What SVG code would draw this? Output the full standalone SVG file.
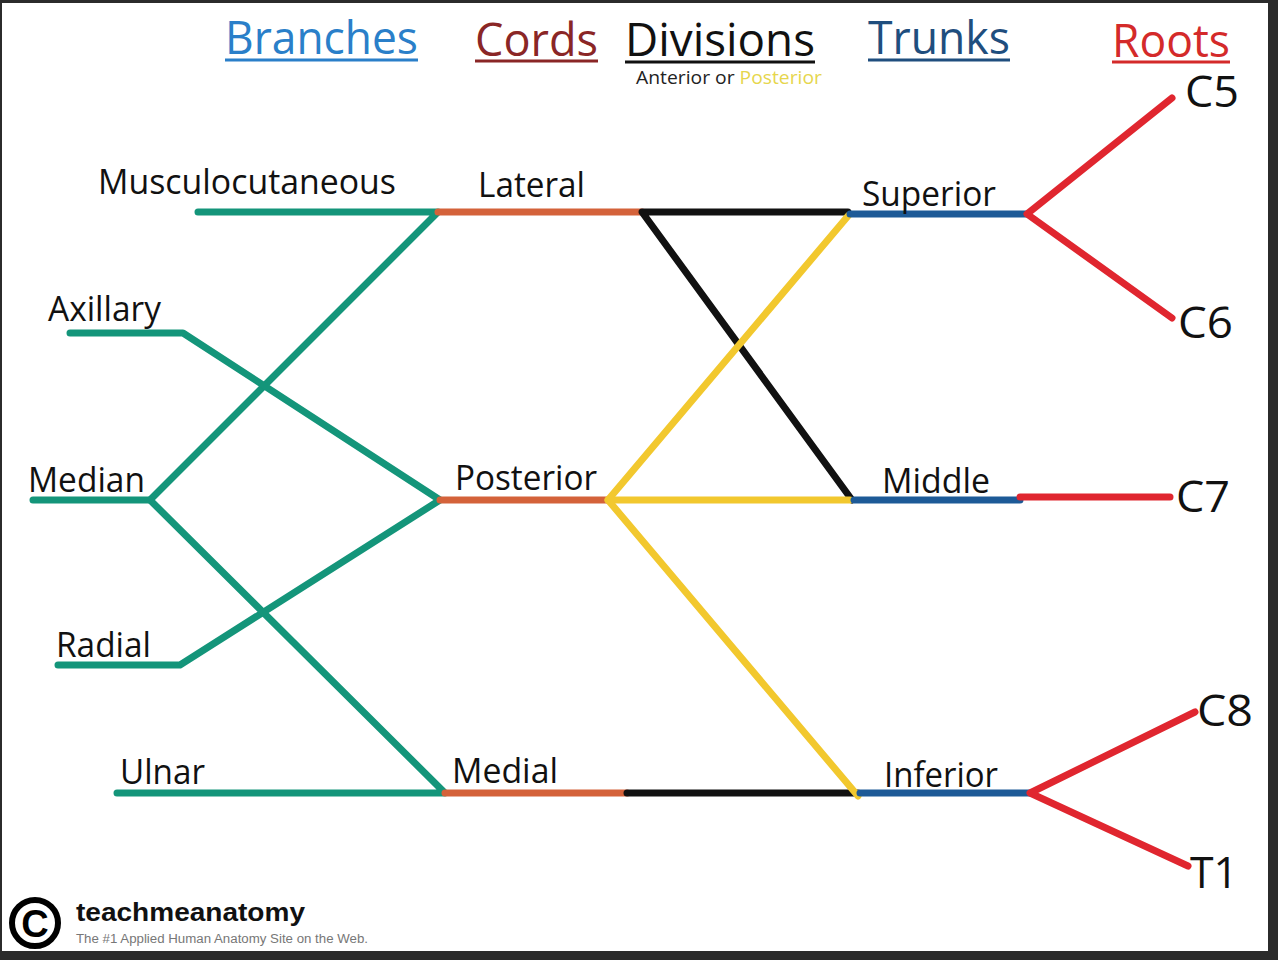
<svg xmlns="http://www.w3.org/2000/svg" width="1278" height="960" viewBox="0 0 1278 960">
<style>
.lbl{font-family:"Open Sans","Noto Sans",sans-serif;font-size:34px;fill:#111}
.hdr{font-family:"Open Sans","Noto Sans",sans-serif;font-size:46px}
.root{font-family:"Open Sans","Noto Sans",sans-serif;font-size:44px;fill:#111}
.ln{fill:none;stroke-width:7;stroke-linecap:round;stroke-linejoin:round}
.g{stroke:#14957a}.o{stroke:#d4623a}.k{stroke:#111}.y{stroke:#f2c82e}.b{stroke:#1d5a97}.r{stroke:#e0262f}
.ul{stroke-width:3}
</style>
<rect x="0" y="0" width="1278" height="960" fill="#2b2b2b"/>
<rect x="2" y="3" width="1266" height="948" fill="#ffffff"/>

<g id="headers">
<text class="hdr" x="225" y="54" fill="#2a7fc9" textLength="193" lengthAdjust="spacingAndGlyphs">Branches</text>
<line x1="225" y1="60" x2="418" y2="60" stroke="#2a7fc9" class="ul"/>
<text class="hdr" x="475" y="56" fill="#8a2626" textLength="123" lengthAdjust="spacingAndGlyphs">Cords</text>
<line x1="475" y1="61" x2="598" y2="61" stroke="#8a2626" class="ul"/>
<text class="hdr" x="625" y="56" fill="#111" textLength="190" lengthAdjust="spacingAndGlyphs">Divisions</text>
<line x1="625" y1="62" x2="815" y2="62" stroke="#111" class="ul"/>
<text x="636" y="84" font-family="'Open Sans','Noto Sans',sans-serif" font-size="19" fill="#222" textLength="186" lengthAdjust="spacingAndGlyphs">Anterior or <tspan fill="#e6d64c">Posterior</tspan></text>
<text class="hdr" x="868" y="54" fill="#1f4e7e" textLength="142" lengthAdjust="spacingAndGlyphs">Trunks</text>
<line x1="868" y1="60" x2="1010" y2="60" stroke="#1f4e7e" class="ul"/>
<text class="hdr" x="1112" y="57" fill="#d42a2a" textLength="118" lengthAdjust="spacingAndGlyphs">Roots</text>
<line x1="1112" y1="62" x2="1230" y2="62" stroke="#d42a2a" class="ul"/>
</g>

<g id="connectors">
<polyline class="ln g" points="198,212 438,212 150,500 33,500"/>
<polyline class="ln g" points="70,333 183,333 440,500 180,665 58,665"/>
<polyline class="ln g" points="150,500 445,793 117,793"/>
<line class="ln o" x1="438" y1="212" x2="642" y2="212"/>
<line class="ln o" x1="440" y1="500" x2="608" y2="500"/>
<line class="ln o" x1="445" y1="793" x2="627" y2="793"/>
<polyline class="ln k" points="848,212 642,212 852,500"/>
<line class="ln k" x1="627" y1="793" x2="858" y2="793"/>
<polyline class="ln y" points="848,216 608,500 858,796"/>
<line class="ln y" x1="608" y1="500" x2="850" y2="500"/>
<line class="ln b" x1="850" y1="214" x2="1027" y2="214"/>
<line class="ln b" x1="854" y1="500" x2="1020" y2="500"/>
<line class="ln b" x1="860" y1="793" x2="1030" y2="793"/>
<polyline class="ln r" points="1172,98 1027,214 1172,318"/>
<line class="ln r" x1="1020" y1="497" x2="1170" y2="497"/>
<polyline class="ln r" points="1195,712 1030,793 1188,866"/>
</g>

<g id="branches">
<text class="lbl" x="98" y="194" textLength="298" lengthAdjust="spacingAndGlyphs">Musculocutaneous</text>
<text class="lbl" x="48" y="321" textLength="113" lengthAdjust="spacingAndGlyphs">Axillary</text>
<text class="lbl" x="28" y="492" textLength="117" lengthAdjust="spacingAndGlyphs">Median</text>
<text class="lbl" x="56" y="657" textLength="95" lengthAdjust="spacingAndGlyphs">Radial</text>
<text class="lbl" x="120" y="784" textLength="85" lengthAdjust="spacingAndGlyphs">Ulnar</text>
</g>
<g id="cords">
<text class="lbl" x="478" y="197" textLength="107" lengthAdjust="spacingAndGlyphs">Lateral</text>
<text class="lbl" x="455" y="490" textLength="142" lengthAdjust="spacingAndGlyphs">Posterior</text>
<text class="lbl" x="452" y="783" textLength="106" lengthAdjust="spacingAndGlyphs">Medial</text>
</g>
<g id="trunks">
<text class="lbl" x="862" y="206" textLength="134" lengthAdjust="spacingAndGlyphs">Superior</text>
<text class="lbl" x="882" y="493" textLength="108" lengthAdjust="spacingAndGlyphs">Middle</text>
<text class="lbl" x="884" y="787" textLength="114" lengthAdjust="spacingAndGlyphs">Inferior</text>
</g>
<g id="roots">
<text class="root" x="1185" y="107" textLength="54" lengthAdjust="spacingAndGlyphs">C5</text>
<text class="root" x="1178" y="338" textLength="55" lengthAdjust="spacingAndGlyphs">C6</text>
<text class="root" x="1176" y="512" textLength="54" lengthAdjust="spacingAndGlyphs">C7</text>
<text class="root" x="1197" y="726" textLength="56" lengthAdjust="spacingAndGlyphs">C8</text>
<text class="root" x="1190" y="888" textLength="48" lengthAdjust="spacingAndGlyphs">T1</text>
</g>

<g id="logo">
<circle cx="35" cy="923" r="23" fill="none" stroke="#000" stroke-width="6"/>
<text x="35" y="937" text-anchor="middle" font-family="'Liberation Sans',Arial,sans-serif" font-weight="bold" font-size="38" fill="#000">C</text>
<text x="76" y="921" font-family="'Liberation Sans',Arial,sans-serif" font-weight="bold" font-size="26" fill="#111" textLength="229" lengthAdjust="spacingAndGlyphs">teachmeanatomy</text>
<text x="76" y="943" font-family="'Liberation Sans',Arial,sans-serif" font-size="12" fill="#777" textLength="292" lengthAdjust="spacingAndGlyphs">The #1 Applied Human Anatomy Site on the Web.</text>
</g>
</svg>
